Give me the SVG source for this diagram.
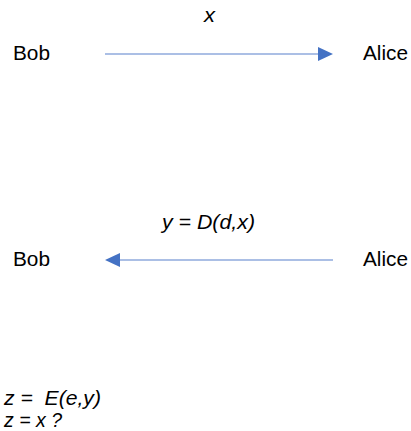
<svg xmlns="http://www.w3.org/2000/svg" width="411" height="431" viewBox="0 0 411 431">
<style>
text{font-family:"Liberation Sans",Arial,sans-serif;font-size:19.5px;fill:#000}
.i{font-style:italic}
.ln{stroke:#8faadc;stroke-width:1.5;fill:none}
.ah{fill:#4472c4}
</style>
<rect width="411" height="431" fill="#fff"/>
<g id="bob1"><text x="13" y="60" textLength="37" lengthAdjust="spacingAndGlyphs">Bob</text></g>
<g id="alice1"><text x="363" y="60" textLength="45" lengthAdjust="spacingAndGlyphs">Alice</text></g>
<g id="bob2"><text x="13" y="266" textLength="37" lengthAdjust="spacingAndGlyphs">Bob</text></g>
<g id="alice2"><text x="363" y="266" textLength="45" lengthAdjust="spacingAndGlyphs">Alice</text></g>
<g id="connectors">
<line class="ln" x1="105" y1="54" x2="319" y2="54"/>
<polygon class="ah" points="318,47 333,54 318,61"/>
<text class="i" x="204" y="22" textLength="11" lengthAdjust="spacingAndGlyphs">x</text>
<line class="ln" x1="119" y1="260" x2="333" y2="260"/>
<polygon class="ah" points="120,253 105,260 120,267"/>
<text class="i" x="162" y="229" textLength="93" lengthAdjust="spacingAndGlyphs">y = D(d,x)</text>
</g>
<g id="notes">
<text class="i" x="4" y="405" xml:space="preserve" textLength="97" lengthAdjust="spacingAndGlyphs">z =  E(e,y)</text>
<text class="i" x="4" y="427" textLength="58" lengthAdjust="spacingAndGlyphs">z = x ?</text>
</g>
</svg>
